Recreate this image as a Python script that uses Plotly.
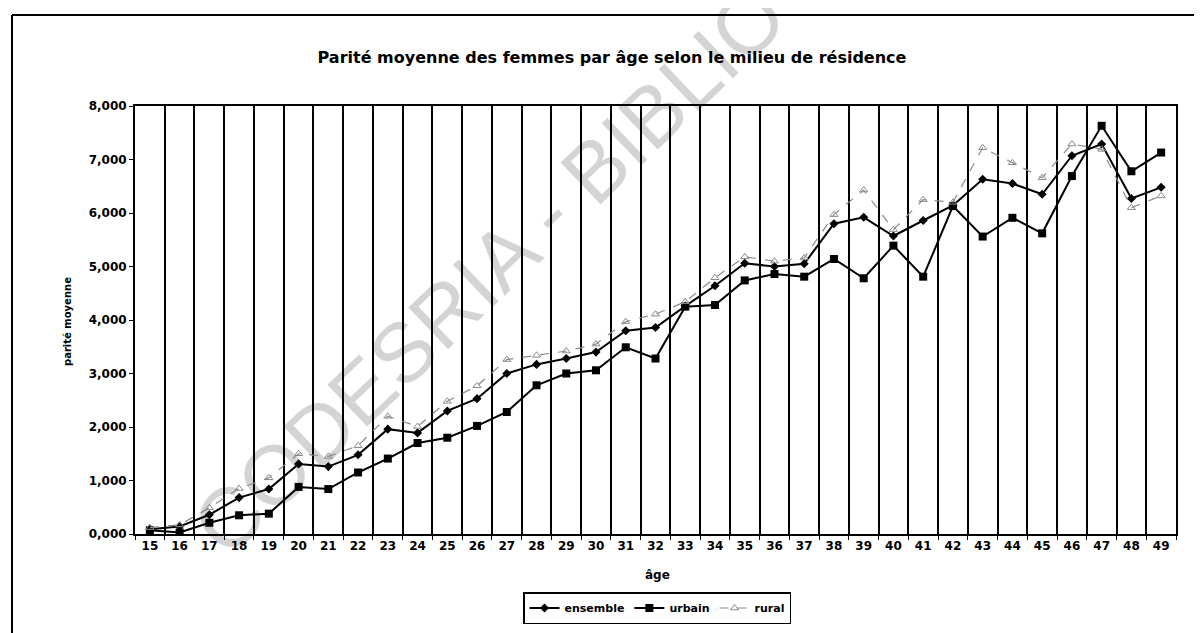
import plotly.graph_objects as go

ages = [str(a) for a in range(15, 50)]

ensemble = [0.09, 0.14, 0.36, 0.68, 0.84, 1.31, 1.26, 1.48, 1.96, 1.89,
            2.30, 2.53, 3.00, 3.17, 3.28, 3.40, 3.80, 3.86, 4.26, 4.64,
            5.06, 5.00, 5.05, 5.80, 5.92, 5.57, 5.86, 6.14, 6.63, 6.55,
            6.35, 7.07, 7.29, 6.27, 6.48]

urbain = [0.07, 0.03, 0.21, 0.35, 0.38, 0.88, 0.84, 1.15, 1.41, 1.70,
          1.80, 2.02, 2.28, 2.78, 3.00, 3.06, 3.49, 3.28, 4.25, 4.28,
          4.74, 4.86, 4.81, 5.14, 4.78, 5.39, 4.81, 6.13, 5.56, 5.91,
          5.62, 6.69, 7.63, 6.78, 7.13]

rural = [0.12, 0.17, 0.49, 0.85, 1.05, 1.50, 1.45, 1.65, 2.20, 2.01,
         2.48, 2.77, 3.26, 3.34, 3.42, 3.55, 3.97, 4.11, 4.34, 4.79,
         5.18, 5.10, 5.16, 5.97, 6.43, 5.69, 6.25, 6.20, 7.22, 6.94,
         6.66, 7.29, 7.19, 6.10, 6.32]

yticks = [0, 1, 2, 3, 4, 5, 6, 7, 8]

BOLD = "DejaVu Sans, Arial, sans-serif"
WM = "Liberation Sans, Arial, sans-serif"

# page has an 8px body margin: figure pixel = page pixel - 8
OFF = 8
W, H = 1202 - OFF, 633 - OFF
L, R, T, B = 135 - OFF, 1176 - OFF, 106 - OFF, 534 - OFF


def px(page_x):
    return (page_x - OFF - L) / (R - L)


def py(page_y):
    return (B - (page_y - OFF)) / (B - T)


fig = go.Figure()
fig.add_trace(go.Scatter(x=ages, y=ensemble, name="ensemble", mode="lines+markers",
                         line=dict(color="black", width=2),
                         marker=dict(symbol="diamond", size=7, color="black")))
fig.add_trace(go.Scatter(x=ages, y=urbain, name="urbain", mode="lines+markers",
                         line=dict(color="black", width=2),
                         marker=dict(symbol="square", size=8, color="black")))
fig.add_trace(go.Scatter(x=ages, y=rural, name="rural", mode="lines+markers",
                         line=dict(color="#8a8a8a", width=1.2, dash="dash"),
                         marker=dict(symbol="triangle-up-open", size=7, color="#8a8a8a")))

fig.update_layout(
    width=W, height=H,
    margin=dict(l=L, r=W - R, t=T, b=H - B, autoexpand=False),
    paper_bgcolor="white", plot_bgcolor="rgba(0,0,0,0)",
    separators=",.",
    font=dict(family=BOLD, color="black"),
    title=dict(text="<b>Parité moyenne des femmes par âge selon le milieu de résidence</b>",
               x=(612 - OFF) / W, xanchor="center", y=1 - (57 - OFF) / H, yanchor="middle",
               font=dict(size=16, family=BOLD, color="black")),
    showlegend=True,
    legend=dict(orientation="h", x=px(657), xanchor="center", y=py(608), yanchor="middle",
                bordercolor="black", borderwidth=1.5, bgcolor="white",
                font=dict(size=11, family=BOLD, color="black", weight="bold"),
                tracegroupgap=0),
    xaxis=dict(type="category", tickson="boundaries", range=[-0.5, 34.5],
               showgrid=True, gridcolor="black", gridwidth=1.5,
               showline=True, linecolor="black", linewidth=2, mirror=True,
               ticks="outside", ticklen=4, tickcolor="black",
               tickfont=dict(size=12, family=BOLD, color="black", weight="bold")),
    yaxis=dict(range=[0, 8], tickvals=yticks, tickformat=".3f", showgrid=False,
               zeroline=False, showline=True, linecolor="black", linewidth=2, mirror=True,
               ticks="outside", ticklen=4, tickcolor="black",
               tickfont=dict(size=12, family=BOLD, color="black", weight="bold")),
)

# axis titles
fig.add_annotation(text="<b>âge</b>", xref="paper", yref="paper", x=px(657), y=py(575),
                   xanchor="center", yanchor="middle", showarrow=False,
                   font=dict(size=12, family=BOLD, color="black"))
fig.add_annotation(text="<b>parité moyenne</b>", xref="paper", yref="paper", x=px(67), y=py(322),
                   xanchor="center", yanchor="middle", showarrow=False, textangle=-90,
                   font=dict(size=10, family=BOLD, color="black"))

# outer frame lines (top and left)
fig.add_shape(type="line", xref="paper", yref="paper", x0=px(12), x1=px(1210), y0=py(15), y1=py(15),
              line=dict(color="black", width=2))
fig.add_shape(type="line", xref="paper", yref="paper", x0=px(12), x1=px(12), y0=py(15), y1=py(640),
              line=dict(color="black", width=2))

# watermark, drawn beneath the chart
sx, sy = 205, 530
ex, ey = sx + 1120 * 0.724, sy - 1120 * 0.690
fig.add_shape(type="line", xref="paper", yref="paper", layer="below",
              x0=px(sx), y0=py(sy), x1=px(ex), y1=py(ey),
              line=dict(color="rgba(0,0,0,0)", width=0),
              label=dict(text="CODESRIA - BIBLIOTHEQUE", textposition="middle",
                         xanchor="center", yanchor="middle",
                         font=dict(size=84, family=WM, color="#d4d4d4")))

fig.write_html("out.html")
